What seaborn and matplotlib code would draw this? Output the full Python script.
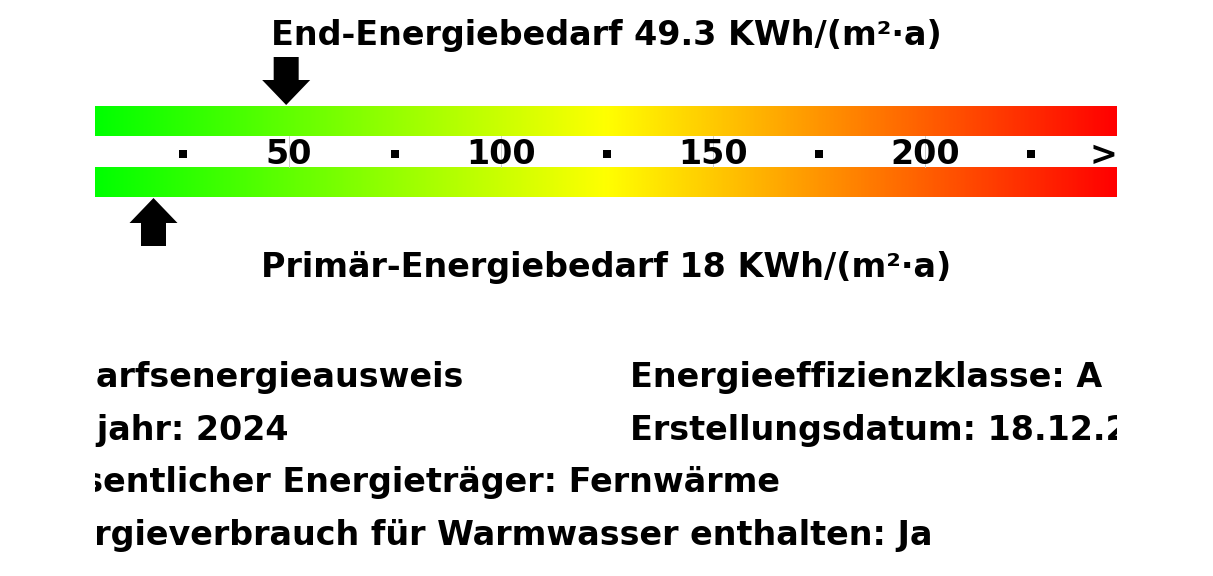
import numpy as np
import matplotlib
matplotlib.use("Agg")
import matplotlib.pyplot as plt
import seaborn as sns
from matplotlib.colors import LinearSegmentedColormap


# values
end_energy = 49.3
primary_energy = 18
major_ticks = [50, 100, 150, 200]
major_labels = ["50", "100", "150", "200"]
minor_ticks = [25, 75, 125, 175, 225]
scale_min = 4.2
scale_max = 245.3

left_lines = [
    "Bedarfsenergieausweis",
    "Baujahr: 2024",
    "Wesentlicher Energieträger: Fernwärme",
    "Energieverbrauch für Warmwasser enthalten: Ja",
]
right_lines = [
    "Energieeffizienzklasse: A",
    "Erstellungsdatum: 18.12.2024",
]

W, H = 1213, 576

sns.set_style("white")
plt.rcParams["font.family"] = ["DejaVu Sans"]
plt.rcParams["text.color"] = "black"

fig = plt.figure(figsize=(W / 100, H / 100), dpi=100)
ax = fig.add_axes([95 / W, 0, (1117 - 95) / W, 1])
ax.set_xlim(scale_min, scale_max)
ax.set_ylim(H, 0)
ax.axis("off")

# px per data unit, used to size arrows in x
ppu = (1117 - 95) / (scale_max - scale_min)

cmap = LinearSegmentedColormap.from_list(
    "energy", ["#00ff00", "#ffff00", "#ff0000"]
)
grad = np.linspace(0, 1, 512).reshape(1, -1)

for y0, y1 in [(106, 136), (167, 197)]:
    ax.imshow(
        grad,
        cmap=cmap,
        aspect="auto",
        extent=(scale_min, scale_max, y1, y0),
        interpolation="bilinear",
    )

# faint marks between the bars
for t in major_ticks:
    ax.plot([t, t], [136, 167], color="#cccccc", lw=0.7, zorder=1)

for t, lab in zip(major_ticks, major_labels):
    ax.text(t, 154, lab, ha="center", va="center", color="black",
            fontsize=24, fontweight="bold", zorder=3)

sns.scatterplot(
    x=minor_ticks,
    y=[153.5] * len(minor_ticks),
    marker="s",
    s=30,
    color="black",
    linewidth=0,
    ax=ax,
    zorder=3,
)
ax.text(242.2, 156, ">", ha="center", va="center", color="black",
        fontsize=24, fontweight="bold", zorder=3)


def arrow(ax, x, tip, direction):
    # direction: +1 points down, -1 points up
    hw = 24 / ppu
    sw = 12.5 / ppu
    base = tip - direction * 25
    end = tip - direction * 48
    xs = [x, x - hw, x - sw, x - sw, x + sw, x + sw, x + hw]
    ys = [tip, base, base, end, end, base, base]
    ax.fill(xs, ys, color="black", lw=0, zorder=4)


arrow(ax, end_energy, 105, 1)
arrow(ax, primary_energy, 198, -1)

fig.text(0.5, 1 - 35.5 / H, f"End-Energiebedarf {end_energy} KWh/(m²·a)",
         ha="center", va="center", color="black",
         fontsize=24, fontweight="bold")
fig.text(0.5, 1 - 267 / H, f"Primär-Energiebedarf {primary_energy} KWh/(m²·a)",
         ha="center", va="center", color="black",
         fontsize=24, fontweight="bold")

left_x = scale_min - 70 / ppu
right_x = scale_min + (630 - 95) / ppu
for i, line in enumerate(left_lines):
    ax.text(left_x, 377.5 + 52.7 * i, line, ha="left", va="center",
            color="black", fontsize=24, fontweight="bold", clip_on=True)
for i, line in enumerate(right_lines):
    ax.text(right_x, 377.5 + 52.7 * i, line, ha="left", va="center",
            color="black", fontsize=24, fontweight="bold", clip_on=True)

fig.savefig("out.png", dpi=100, facecolor="white")
